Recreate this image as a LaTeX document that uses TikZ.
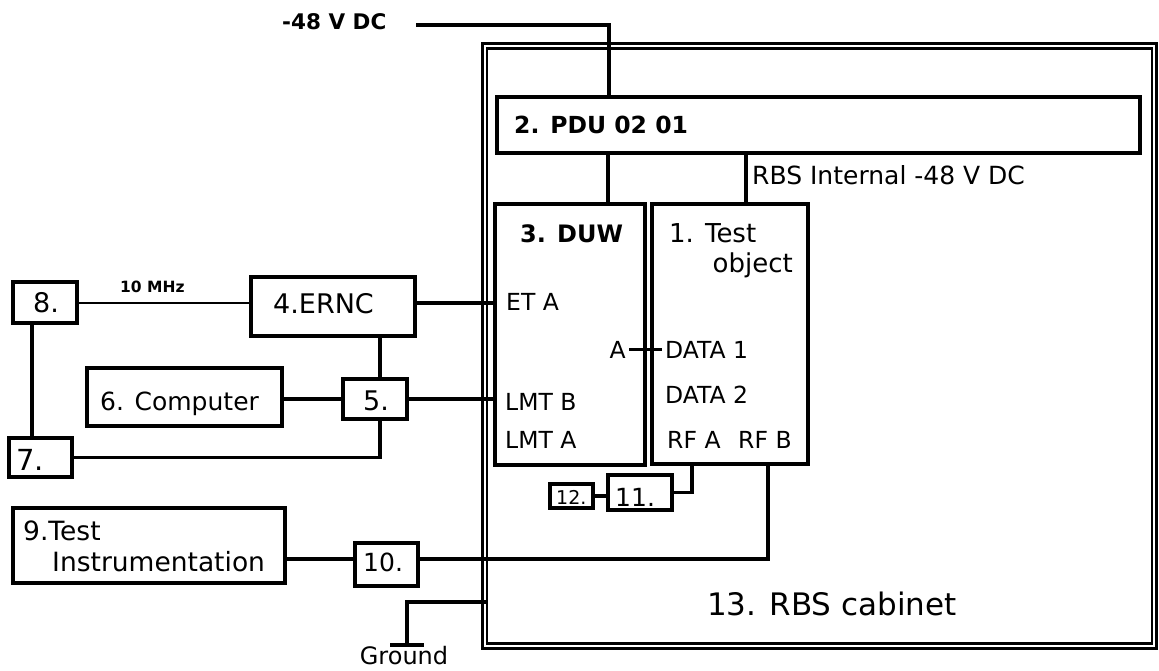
\documentclass[tikz,border=0pt]{standalone}
\usepackage{fontspec}
\setmainfont{DejaVu Sans}
\begin{document}
\begin{tikzpicture}[x=1pt,y=-1pt,
  box/.style={draw, line width=3.2pt, anchor=north west, inner sep=0, outer sep=0},
  wire/.style={line width=3.2pt},
  lbl/.style={inner sep=0, font=\fontsize{23.5}{27}\selectfont},
  big/.style={inner sep=0, font=\fontsize{26}{30}\selectfont},
  num/.style={inner sep=0, font=\fontsize{27}{30}\selectfont}]
\useasboundingbox (0,0) rectangle (1159,671);

% cabinet
\node[draw, double, double distance=2.2pt, line width=2.6pt, minimum width=669.5pt, minimum height=600pt, inner sep=0] (cab) at (819.5,346) {};

% boxes
\node[box, minimum width=643pt, minimum height=56pt] (pdu) at (497,97) {};
\node[box, minimum width=150pt, minimum height=261pt] (duw) at (495,204) {};
\node[box, minimum width=156pt, minimum height=260pt] (tobj) at (652,204) {};
\node[box, minimum width=164pt, minimum height=59pt] (ernc) at (251,277) {};
\node[box, minimum width=64pt, minimum height=41pt] (b8) at (13,282) {};
\node[box, minimum width=195pt, minimum height=58pt] (comp) at (87,368) {};
\node[box, minimum width=64pt, minimum height=40pt] (b5) at (343,379) {};
\node[box, minimum width=63pt, minimum height=39pt] (b7) at (9,438) {};
\node[box, minimum width=272pt, minimum height=75pt] (b9) at (13,508) {};
\node[box, minimum width=63pt, minimum height=43pt] (b10) at (355,543) {};
\node[box, minimum width=64pt, minimum height=35pt] (b11) at (608,475) {};
\node[box, minimum width=43pt, minimum height=24pt] (b12) at (550,484) {};

% texts
\node[inner sep=0, anchor=base west, font=\fontsize{21.5}{25}\bfseries] (vin) at (282,30) {-48 V DC};
\node[inner sep=0, anchor=base west, font=\fontsize{23.5}{27}\bfseries] (tpdu) at (514,134) {2. PDU 02 01};
\node[lbl, anchor=base west, font=\fontsize{25}{28}\selectfont] (tint) at (752,185) {RBS Internal -48 V DC};
\node[inner sep=0, anchor=base west, font=\fontsize{24}{28}\bfseries] (tduw) at (520,242) {3. DUW};
\node[big, anchor=base west] (tto1) at (669,242) {1. Test};
\node[big, anchor=base east] (tto2) at (793,272) {object};
\node[lbl, anchor=base west] (eta) at (506,310) {ET A};
\node[lbl, anchor=base east, inner xsep=3pt] (aport) at (629,358) {A};
\node[lbl, anchor=base west, inner xsep=3pt] (data1) at (662,358) {DATA 1};
\node[lbl, anchor=base west] (data2) at (665,403) {DATA 2};
\node[lbl, anchor=base west] (lmtb) at (505,410) {LMT B};
\node[lbl, anchor=base west] (lmta) at (505,448) {LMT A};
\node[lbl, anchor=base west] (rfa) at (667,448) {RF A};
\node[lbl, anchor=base west] (rfb) at (738,448) {RF B};
\node[num, anchor=base west] (tern) at (273,313) {4.ERNC};
\node[num, anchor=base west] (t8) at (33,312) {8.};
\node[inner sep=0, anchor=base west, font=\fontsize{15.5}{18}\bfseries] (tmhz) at (120,292) {10 MHz};
\node[lbl, anchor=base west, font=\fontsize{25}{28}\selectfont] (tcomp) at (100,410) {6. Computer};
\node[num, anchor=base west] (t5) at (363,410) {5.};
\node[num, anchor=base west, font=\fontsize{29}{30}\selectfont] (t7) at (16,470) {7.};
\node[big, anchor=base west, font=\fontsize{26.5}{30}\selectfont] (t9a) at (23,540) {9.Test};
\node[big, anchor=base west, font=\fontsize{26.5}{30}\selectfont] (t9b) at (52,571) {Instrumentation};
\node[lbl, anchor=base west, font=\fontsize{25}{28}\selectfont] (t10) at (363,571) {10.};
\node[lbl, anchor=base west, font=\fontsize{25}{28}\selectfont] (t11) at (615,506) {11.};
\node[lbl, anchor=base west, font=\fontsize{19}{22}\selectfont] (t12) at (556,504) {12.};
\node[inner sep=0, anchor=base west, font=\fontsize{31}{34}\selectfont] (tcab) at (707,615) {13. RBS cabinet};
\node[inner sep=0, anchor=base, font=\fontsize{24}{26}\selectfont] (tgnd) at (404,664) {Ground};

% connection points
\coordinate (pwr) at (416,25);
\coordinate (pduin) at ([xshift=112pt]pdu.north west);
\coordinate (d1) at ([xshift=113pt]duw.north west);
\coordinate (t1) at ([xshift=94pt]tobj.north west);
\coordinate (c87) at ([xshift=19pt]b8.south west);
\coordinate (c5n) at ([xshift=5pt]b5.north);
\coordinate (c5s) at ([xshift=5pt]b5.south);
\coordinate (c10w) at ([yshift=5.5pt]b10.west);
\coordinate (c10e) at ([yshift=5.5pt]b10.east);
\coordinate (crfb) at ([xshift=116pt]tobj.south west);
\coordinate (crfa) at ([xshift=40pt]tobj.south west);
\coordinate (g1) at (487,602);
\coordinate (gnd) at (407,645);

% connectors
\draw[wire] (pwr) -| (pduin);
\draw[wire] (d1) -- (d1 |- pdu.south);
\draw[wire] (t1) -- (t1 |- pdu.south);
\draw[wire] (ernc.east |- 0,303) -- (duw.west |- 0,303);
\draw[line width=2.6pt] (b8.east |- 0,303) -- (ernc.west |- 0,303);
\draw[line width=3.6pt] (c87) -- (c87 |- b7.north);
\draw[wire] (comp.east |- b5.west) -- (b5.west);
\draw[wire] (b5.east) -- (b5.east -| duw.west);
\draw[wire] (c5n) -- (c5n |- ernc.south);
\draw[wire] (b7.east) -| (c5s);
\draw[wire] (b9.east |- c10w) -- (c10w);
\draw[wire] (c10e) -| (crfb);
\draw[wire] (b12.east) -- (b12.east -| b11.west);
\draw[wire] (b11.east) -| (crfa);
\draw[wire] (aport.east) -- (data1.west);
\draw[line width=3.6pt] (g1) -| (gnd);
\draw[line width=3.6pt] ([xshift=-17pt]gnd) -- ([xshift=17pt]gnd);
\end{tikzpicture}
\end{document}
